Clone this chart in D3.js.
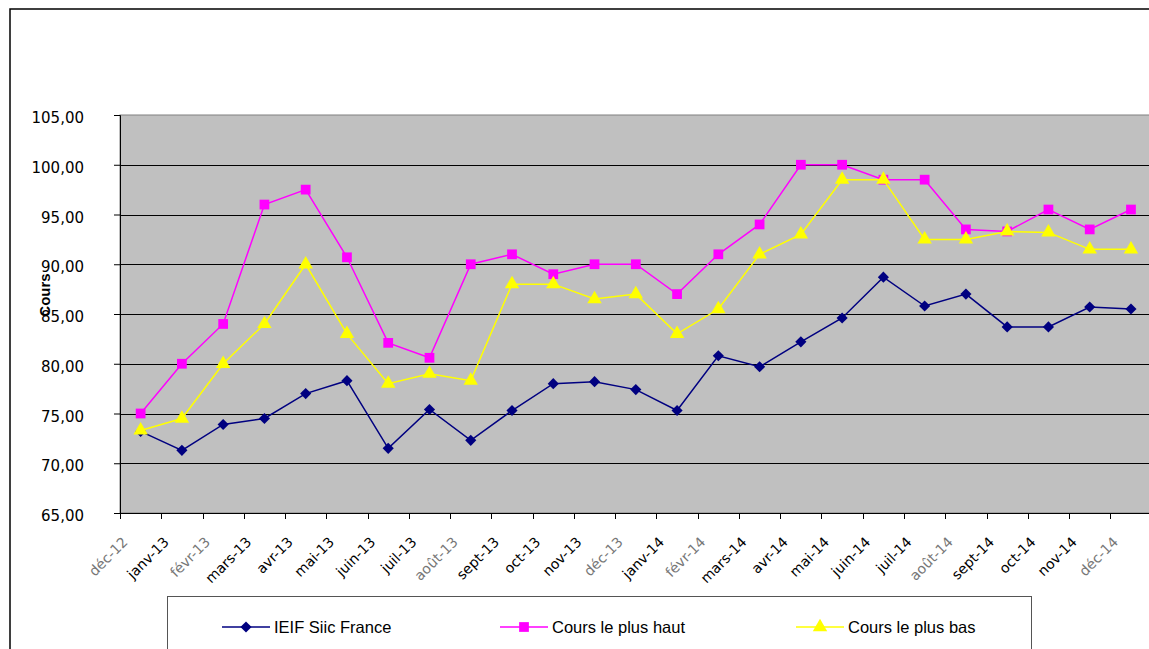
<!DOCTYPE html>
<html>
<head>
<meta charset="utf-8">
<script src="https://cdn.jsdelivr.net/npm/d3@7"></script>
<style>
  body { margin: 0; background: #fff; }
  svg { display: block; }
</style>
</head>
<body>
<div id="chart"></div>
<script>
'use strict';

// monthly categories, dec 2012 to dec 2014
var months = ["déc-12", "janv-13", "févr-13", "mars-13", "avr-13", "mai-13", "juin-13",
    "juil-13", "août-13", "sept-13", "oct-13", "nov-13", "déc-13", "janv-14", "févr-14",
    "mars-14", "avr-14", "mai-14", "juin-14", "juil-14", "août-14", "sept-14", "oct-14",
    "nov-14", "déc-14"];

var ieif = [73.2, 71.3, 73.9, 74.5, 77.0, 78.3, 71.5, 75.4, 72.3, 75.3, 78.0, 78.2, 77.4,
    75.3, 80.8, 79.7, 82.2, 84.6, 88.7, 85.8, 87.0, 83.7, 83.7, 85.7, 85.5];
var coursHaut = [75.0, 80.0, 84.0, 96.0, 97.5, 90.7, 82.1, 80.6, 90.0, 91.0, 89.0, 90.0, 90.0,
    87.0, 91.0, 94.0, 100.0, 100.0, 98.5, 98.5, 93.5, 93.3, 95.5, 93.5, 95.5];
var coursBas = [73.3, 74.5, 80.0, 84.0, 90.0, 83.0, 78.0, 79.0, 78.3, 88.0, 88.0, 86.5, 87.0,
    83.0, 85.5, 91.0, 93.0, 98.5, 98.5, 92.5, 92.5, 93.3, 93.2, 91.5, 91.5];

var yTicks = [65, 70, 75, 80, 85, 90, 95, 100, 105];
var seriesNames = ["IEIF Siic France", "Cours le plus haut", "Cours le plus bas"];

var width = 1149, height = 649;
var plot = {left: 120, right: 1151.6, top: 115, bottom: 513};

var svg = d3.select("#chart").append("svg")
    .attr("width", width)
    .attr("height", height);

// outer chart frame (runs off the right and bottom of the picture)
svg.append("rect")
    .attr("x", 10).attr("y", 9)
    .attr("width", 1200).attr("height", 700)
    .attr("fill", "#fff")
    .attr("stroke", "#000")
    .attr("stroke-width", 1.5);

var x = d3.scaleBand()
    .domain(months)
    .range([plot.left, plot.right])
    .padding(0);
var y = d3.scaleLinear()
    .domain([65, 105])
    .range([plot.bottom, plot.top]);

function cx(d, i) { return x(months[i]) + x.bandwidth() / 2; }

// plot area
svg.append("rect")
    .attr("x", plot.left).attr("y", plot.top)
    .attr("width", plot.right - plot.left)
    .attr("height", plot.bottom - plot.top)
    .attr("fill", "#c0c0c0")
    .attr("stroke", "#808080");

// gridlines
svg.append("g").selectAll("line")
    .data(yTicks.slice(1, -1))
    .enter().append("line")
    .attr("x1", plot.left).attr("x2", plot.right)
    .attr("y1", function(d) { return Math.round(y(d)) + 0.5; })
    .attr("y2", function(d) { return Math.round(y(d)) + 0.5; })
    .attr("stroke", "#000")
    .attr("stroke-width", 1);

// y axis
var yAxis = d3.axisLeft(y)
    .tickValues(yTicks)
    .tickSize(6)
    .tickPadding(30)
    .tickFormat(function(d) { return d3.format(".2f")(d).replace(".", ","); });
var gy = svg.append("g")
    .attr("transform", "translate(" + plot.left + ",0)")
    .call(yAxis);
gy.select(".domain").attr("stroke", "#000");
gy.selectAll("text")
    .attr("font-family", "DejaVu Sans, Verdana, sans-serif")
    .attr("font-size", 15)
    .attr("fill", "#000")
    .attr("dy", "0.5em");

// x axis line and ticks between categories
var gx = svg.append("g");
gx.append("line")
    .attr("x1", plot.left).attr("x2", plot.right)
    .attr("y1", plot.bottom + 0.5).attr("y2", plot.bottom + 0.5)
    .attr("stroke", "#000");
var bounds = months.map(function(m) { return x(m); }).concat([plot.right]);
gx.selectAll("line.tick")
    .data(bounds)
    .enter().append("line")
    .attr("class", "tick")
    .attr("x1", function(d) { return Math.round(d) + 0.5; })
    .attr("x2", function(d) { return Math.round(d) + 0.5; })
    .attr("y1", plot.bottom).attr("y2", plot.bottom + 6)
    .attr("stroke", "#000");
gx.selectAll("text")
    .data(months)
    .enter().append("text")
    .attr("transform", function(d) {
        var px = x(d) + x.bandwidth() / 2 - 12;
        return "translate(" + px + "," + (plot.bottom + 30) + ") rotate(-45)";
    })
    .attr("text-anchor", "end")
    .attr("font-family", "DejaVu Sans, Verdana, sans-serif")
    .attr("font-size", 14)
    .attr("fill", function(d) { return /[éû]/.test(d) ? "#777" : "#000"; })
    .text(function(d) { return d; });

// y axis title
svg.append("text")
    .attr("transform", "translate(50,295) rotate(-90)")
    .attr("text-anchor", "middle")
    .attr("font-family", "Liberation Sans, Arial, sans-serif")
    .attr("font-weight", "bold")
    .attr("font-size", 15)
    .text("Cours");

// series
var series = [
    {name: seriesNames[0], values: ieif, color: "#000080", symbol: d3.symbolSquare, size: 62, rot: 45},
    {name: seriesNames[1], values: coursHaut, color: "#ff00ff", symbol: d3.symbolSquare, size: 95, rot: 0},
    {name: seriesNames[2], values: coursBas, color: "#ffff00", symbol: d3.symbolTriangle, size: 90, rot: 0}
];

var line = d3.line()
    .x(cx)
    .y(function(d) { return y(d); });

// draw in Excel order: later series on top
series.forEach(function(s) {
    var g = svg.append("g");
    g.append("path")
        .datum(s.values)
        .attr("d", line)
        .attr("fill", "none")
        .attr("stroke", s.color)
        .attr("stroke-width", 1.5);
    g.selectAll("path.mark")
        .data(s.values)
        .enter().append("path")
        .attr("class", "mark")
        .attr("d", d3.symbol().type(s.symbol).size(s.size))
        .attr("transform", function(d, i) {
            return "translate(" + cx(d, i) + "," + y(d) + ") rotate(" + s.rot + ")";
        })
        .attr("fill", s.color);
});

// legend
var legend = svg.append("g");
legend.append("rect")
    .attr("x", 167.5).attr("y", 596.5)
    .attr("width", 864).attr("height", 80)
    .attr("fill", "#fff")
    .attr("stroke", "#555");
var legendX = [222, 500, 796];
series.forEach(function(s, i) {
    var lg = legend.append("g").attr("transform", "translate(" + legendX[i] + ",627)");
    lg.append("line")
        .attr("x1", 0).attr("x2", 48)
        .attr("stroke", s.color)
        .attr("stroke-width", 1.5);
    lg.append("path")
        .attr("d", d3.symbol().type(s.symbol).size(s.size))
        .attr("transform", "translate(24,0) rotate(" + s.rot + ")")
        .attr("fill", s.color);
    lg.append("text")
        .attr("x", 52)
        .attr("dy", "0.35em")
        .attr("font-family", "Liberation Sans, Arial, sans-serif")
        .attr("font-size", 16.5)
        .attr("fill", "#000")
        .text(s.name);
});
</script>
</body>
</html>
